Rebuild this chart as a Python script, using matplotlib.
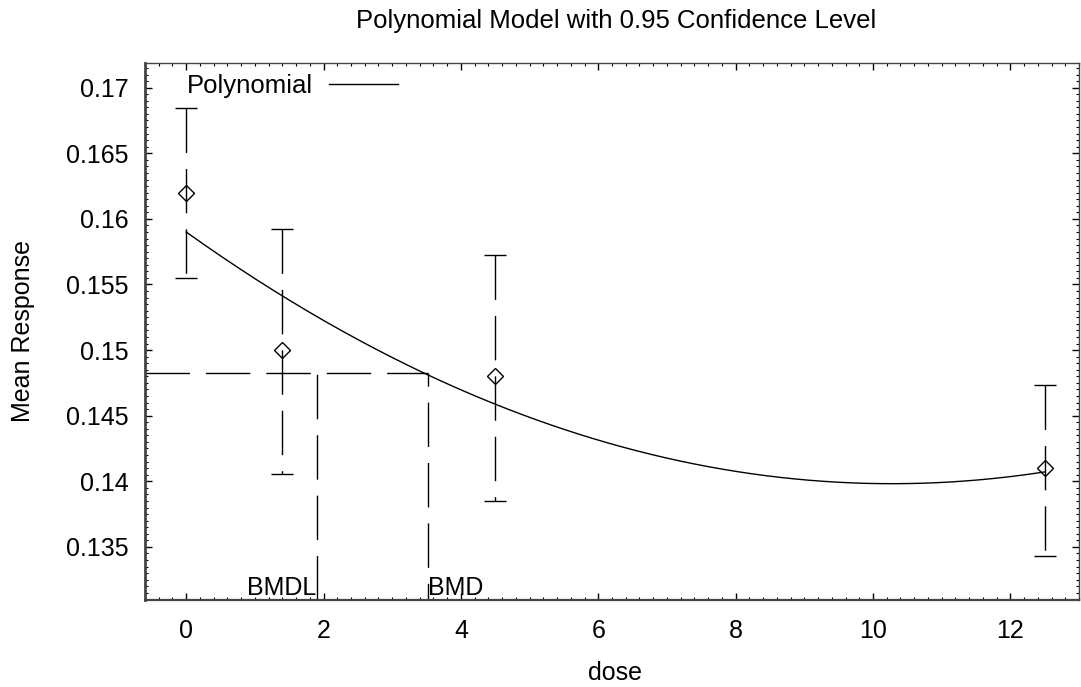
import numpy as np
import matplotlib
matplotlib.use('Agg')
import matplotlib.pyplot as plt
from matplotlib.ticker import MultipleLocator, FuncFormatter

plt.rcParams['font.family'] = ['Liberation Sans', 'DejaVu Sans']

# observed data (dose groups) with 95% confidence limits
dose = [0, 1.4, 4.5, 12.5]
mean_resp = [0.162, 0.150, 0.148, 0.141]
ci_upper = [0.16848, 0.15923, 0.15722, 0.14732]
ci_lower = [0.15547, 0.14053, 0.13850, 0.13433]

# fitted polynomial model: c0 + c1*x + c2*x^2
poly_coef = [0.1590, -0.003734, 0.0001817]

bmr_level = 0.14823
bmdl = 1.90
bmd = 3.52

fig = plt.figure(figsize=(10.81, 6.87), dpi=100)
ax = fig.add_axes([0.1341, 0.1266, 0.8641, 0.7817])

dash = (0, (32, 11.5))
x0, x1 = -0.6, 13.0
y0, y1 = 0.13095, 0.17188

# model curve
xs = np.linspace(min(dose), max(dose), 300)
ys = np.polyval(poly_coef[::-1], xs)
ax.plot(xs, ys, color='black', lw=1, label='Polynomial')

# error bars: solid caps, dashed stems drawn from the top down
yerr = [np.array(mean_resp) - np.array(ci_lower), np.array(ci_upper) - np.array(mean_resp)]
eb = ax.errorbar(dose, mean_resp, yerr=yerr, fmt='none', ecolor='black',
                 elinewidth=1, capsize=8, capthick=1)
eb[2][0].set_visible(False)
for x, up, lo in zip(dose, ci_upper, ci_lower):
    ax.plot([x, x], [up, lo], color='black', lw=1, linestyle=dash)

ax.plot(dose, mean_resp, linestyle='none', marker='D', markersize=8.5,
        markerfacecolor='none', markeredgecolor='black', markeredgewidth=1)

# BMD / BMDL lines
ax.plot([x0, bmd], [bmr_level, bmr_level], color='black', lw=1, linestyle=dash)
ax.plot([bmdl, bmdl], [y0, bmr_level], color='black', lw=1, linestyle=dash)
ax.plot([bmd, bmd], [y0, bmr_level], color='black', lw=1, linestyle=(20, (32, 11.5)))
ax.text(bmdl, 0.13133, 'BMDL', ha='right', va='baseline', fontsize=18)
ax.text(bmd, 0.13133, 'BMD', ha='left', va='baseline', fontsize=18)

ax.set_xlim(x0, x1)
ax.set_ylim(y0, y1)

ax.xaxis.set_major_locator(MultipleLocator(2))
ax.xaxis.set_minor_locator(MultipleLocator(0.2))
ax.yaxis.set_major_locator(MultipleLocator(0.005))
ax.yaxis.set_minor_locator(MultipleLocator(0.0005))
ax.yaxis.set_major_formatter(FuncFormatter(lambda v, p: '%g' % round(v, 4)))

ax.tick_params(which='both', direction='in', top=True, right=True, labelsize=18)
ax.tick_params(which='major', length=5, width=1)
ax.tick_params(which='minor', length=2.5, width=0.8)
ax.tick_params(axis='x', which='major', pad=14)
ax.tick_params(axis='y', which='major', pad=12)

for side in ['top', 'right']:
    ax.spines[side].set_linewidth(1)
ax.spines['left'].set_linewidth(2)
ax.spines['bottom'].set_linewidth(1.6)
for s in ax.spines.values():
    s.set_color('#444444')

fig.text(615 / 1081, 1 - 680 / 687, 'dose', ha='center', va='baseline', fontsize=18)
fig.text(23 / 1081, 1 - 331 / 687, 'Mean Response', ha='center', va='center',
         rotation=90, fontsize=18)
fig.text(616 / 1081, 1 - 28 / 687, 'Polynomial Model with 0.95 Confidence Level',
         ha='center', va='baseline', fontsize=18.5)

ax.legend(loc='center left', bbox_to_anchor=(0.045, 0.957), frameon=False, markerfirst=False,
          fontsize=18.5, handlelength=2.72, handletextpad=0.6, borderpad=0, borderaxespad=0)

fig.savefig('out.png', dpi=100)
